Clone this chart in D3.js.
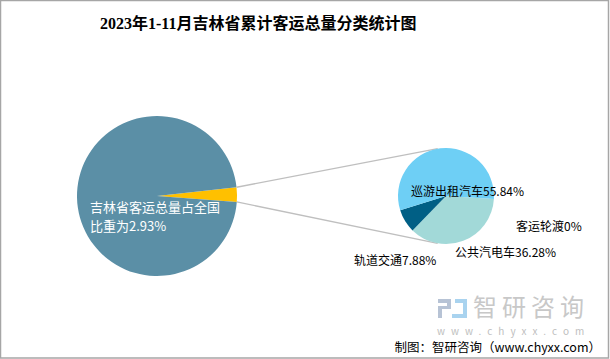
<!DOCTYPE html>
<html><head><meta charset="utf-8">
<script src="https://cdn.jsdelivr.net/npm/d3@7/dist/d3.min.js"></script>
<style>
html,body{margin:0;padding:0;background:#fff;}
svg{display:block;}
text{font-family:"Noto Sans CJK SC",sans-serif;}
</style></head>
<body>
<svg id="c" width="610" height="359"></svg>
<script>
// ---- data ----
const title = "2023年1-11月吉林省累计客运总量分类统计图";
const outerCategories = ["吉林省", "全国其他"];
const outerValues = [2.93, 97.07];
const innerCategories = ["公共汽电车", "轨道交通", "客运轮渡", "巡游出租汽车"];
const innerValues = [36.28, 7.88, 0, 55.84];
const outerLabel = ["吉林省客运总量占全国", "比重为2.93%"];
const sourceText = "制图：智研咨询（www.chyxx.com）";

// ---- styles ----
const outerColors = ["#FFC000", "#5B8FA6"];
const innerColors = {"公共汽电车":"#A2D9D8","轨道交通":"#005F85","客运轮渡":"#3F7F9F","巡游出租汽车":"#6ECFF5"};
const W = 610, H = 359;
const big = {cx:157, cy:196, r:80};
const small = {cx:446, cy:196, r:48};
const deg = Math.PI/180;
const labelOffsets = {
  "巡游出租汽车":[-35,-5], "客运轮渡":[70,30], "公共汽电车":[9,56], "轨道交通":[-92,64]
};

const svg = d3.select("#c");
svg.append("rect").attr("x",0.5).attr("y",0.5).attr("width",W-2).attr("height",H-1.5)
  .attr("fill","#fff").attr("stroke","#a6a6a6").attr("stroke-width",1.5);

svg.append("text").attr("x",100).attr("y",29)
  .style("font-family",'"Liberation Serif","Noto Sans CJK SC",serif')
  .style("font-size","16px").style("font-weight","bold").attr("fill","#000").text(title);

// outer pie: yellow slice centered slightly above 3 o'clock
const yellowSpan = outerValues[0]/d3.sum(outerValues)*360;
const yStart = (89 - yellowSpan/2)*deg;
const outerPie = d3.pie().sort(null).value(d=>d).startAngle(yStart).endAngle(yStart+2*Math.PI);
const outerArcs = outerPie(outerValues);
const arcBig = d3.arc().innerRadius(0).outerRadius(big.r);
const gBig = svg.append("g").attr("transform",`translate(${big.cx},${big.cy})`);
gBig.selectAll("path").data(outerArcs).join("path")
  .attr("d",arcBig).attr("fill",(d,i)=>outerColors[i]);

// connector lines
const ya = outerArcs[0];
function pt(c,a,r){return [c.cx + r*Math.sin(a), c.cy - r*Math.cos(a)];}
const p1 = pt(big, ya.startAngle, big.r), p2 = pt(big, ya.endAngle, big.r);
const q1 = pt(small, -10*deg, small.r), q2 = pt(small, 190*deg, small.r);
svg.append("line").attr("x1",p1[0]).attr("y1",p1[1]).attr("x2",q1[0]).attr("y2",q1[1])
  .attr("stroke","#bfbfbf").attr("stroke-width",1.3);
svg.append("line").attr("x1",p2[0]).attr("y1",p2[1]).attr("x2",q2[0]).attr("y2",q2[1])
  .attr("stroke","#bfbfbf").attr("stroke-width",1.3);

// big label
const bl = gBig.append("text").attr("fill","#fff").style("font-size","13px");
outerLabel.forEach((t,i)=>bl.append("tspan").attr("x",-67).attr("y",16+i*19).text(t));

// inner pie
const innerStart = 93.6*deg;
const innerPie = d3.pie().sort(null).value(d=>d.v).startAngle(innerStart).endAngle(innerStart+2*Math.PI);
const innerData = innerCategories.map((c,i)=>({c, v:innerValues[i]}));
const arcSmall = d3.arc().innerRadius(0).outerRadius(small.r);
const gSmall = svg.append("g").attr("transform",`translate(${small.cx},${small.cy})`);
gSmall.selectAll("path").data(innerPie(innerData)).join("path")
  .attr("d",arcSmall).attr("fill",d=>innerColors[d.data.c]);
gSmall.selectAll("text.lbl").data(innerData).join("text").attr("class","lbl")
  .attr("x",d=>labelOffsets[d.c][0]).attr("y",d=>labelOffsets[d.c][1]+4.5)
  .style("font-size","12px").attr("fill","#000")
  .text(d=>d.c + d.v + "%");

// watermark
const wm = svg.append("g");
wm.append("rect").attr("x",438).attr("y",299).attr("width",13).attr("height",4).attr("fill","#b7c3d5");
wm.append("rect").attr("x",447).attr("y",299).attr("width",4).attr("height",10).attr("fill","#b7c3d5");
wm.append("rect").attr("x",438).attr("y",306).attr("width",9).attr("height",3).attr("fill","#b7c3d5");
wm.append("rect").attr("x",438).attr("y",306).attr("width",4).attr("height",12).attr("fill","#b7c3d5");
wm.append("rect").attr("x",455).attr("y",299).attr("width",12).attr("height",4).attr("fill","#a9d3ef");
wm.append("rect").attr("x",463).attr("y",299).attr("width",4).attr("height",19).attr("fill","#a9d3ef");
wm.append("rect").attr("x",452).attr("y",314).attr("width",15).attr("height",4).attr("fill","#a9d3ef");
wm.append("text").attr("x",473).attr("y",316).style("font-size","24px").style("letter-spacing","5px")
  .attr("fill","#c8c8c8").text("智研咨询");
wm.append("text").attr("x",437).attr("y",335).style("font-size","10px").style("letter-spacing","6px")
  .attr("fill","#c0c0c0").text("www.chyxx.com");

svg.append("text").attr("x",601).attr("y",352).attr("text-anchor","end")
  .style("font-size","12.5px").attr("fill","#000").text(sourceText);
</script>
</body></html>
